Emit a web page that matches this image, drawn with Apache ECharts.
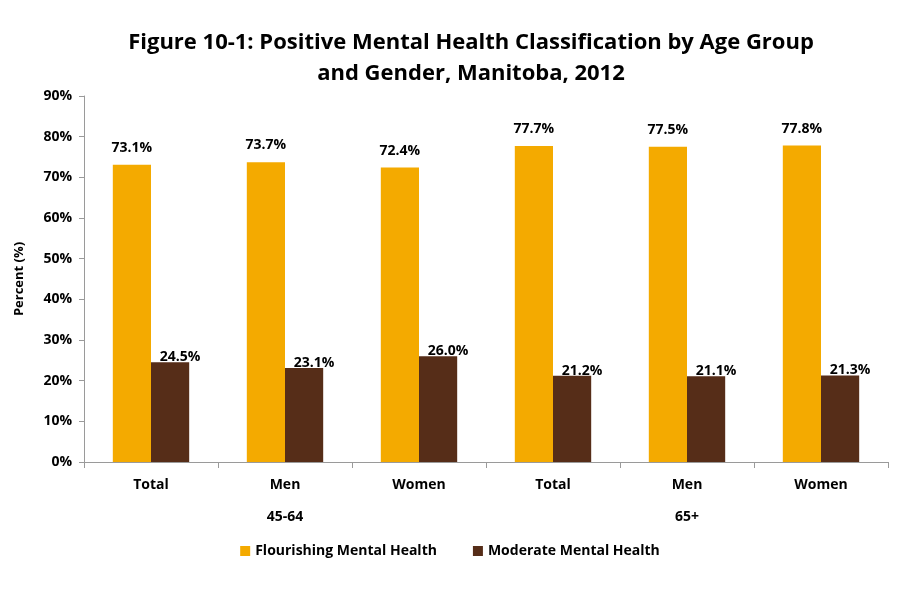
<!DOCTYPE html>
<html lang="en">
<head>
<meta charset="utf-8">
<script src="https://cdn.jsdelivr.net/npm/echarts@6/dist/echarts.min.js"></script>
<style>
  * { margin: 0; padding: 0; }
  body { background: #fff; }
</style>
</head>
<body>
<div id="main" style="width:900px;height:600px;"></div>
<script>
// chart data
var categories = ['Total', 'Men', 'Women', 'Total', 'Men', 'Women'];
var ageGroups = ['', '45-64', '', '', '65+', ''];
var flourishing = [73.1, 73.7, 72.4, 77.7, 77.5, 77.8];
var moderate = [24.5, 23.1, 26.0, 21.2, 21.1, 21.3];
var yTicks = [0, 10, 20, 30, 40, 50, 60, 70, 80, 90];

var FONT = 'Open Sans';
var myChart = echarts.init(document.getElementById('main'));

var option = {
    backgroundColor: '#fff',
    title: {
        text: 'Figure 10-1: Positive Mental Health Classification by Age Group\nand Gender, Manitoba, 2012',
        left: 466,
        top: 22,
        textAlign: 'center',
        textStyle: {
            fontFamily: FONT,
            fontWeight: 'bold',
            fontSize: 22,
            lineHeight: 31,
            color: '#000'
        }
    },
    legend: {
        bottom: 37,
        left: 'center',
        itemWidth: 10,
        itemHeight: 10,
        itemGap: 36,
        icon: 'rect',
        textStyle: { fontFamily: FONT, fontWeight: 'bold', fontSize: 14, color: '#000' },
        data: ['Flourishing Mental Health', 'Moderate Mental Health']
    },
    grid: { left: 84, right: 12, top: 96, bottom: 138 },
    xAxis: [{
        type: 'category',
        data: categories,
        axisLine: { lineStyle: { color: '#9a9a9a' } },
        axisTick: { show: true, length: 6, lineStyle: { color: '#9a9a9a' } },
        axisLabel: {
            margin: 16,
            fontFamily: FONT, fontWeight: 'bold', fontSize: 14, color: '#000'
        }
    }, {
        type: 'category',
        position: 'bottom',
        data: ageGroups,
        axisLine: { show: false },
        axisTick: { show: false },
        axisLabel: {
            margin: 48,
            fontFamily: FONT, fontWeight: 'bold', fontSize: 14, color: '#000'
        }
    }],
    yAxis: {
        type: 'value',
        min: yTicks[0],
        max: yTicks[yTicks.length - 1],
        interval: 10,
        name: 'Percent (%)',
        nameLocation: 'middle',
        nameGap: 58,
        nameTextStyle: { fontFamily: FONT, fontWeight: 'bold', fontSize: 13, color: '#000' },
        axisLine: { show: true, lineStyle: { color: '#9a9a9a' } },
        axisTick: { show: true, length: 5, lineStyle: { color: '#9a9a9a' } },
        splitLine: { show: false },
        axisLabel: {
            margin: 12,
            formatter: '{value}%',
            fontFamily: FONT, fontWeight: 'bold', fontSize: 14, color: '#000'
        }
    },
    series: [{
        name: 'Flourishing Mental Health',
        type: 'bar',
        data: flourishing,
        barGap: '0%',
        barCategoryGap: '43%',
        itemStyle: { color: '#F4AA00' },
        label: {
            show: true,
            position: 'top',
            distance: 10,
            formatter: function (p) { return p.value.toFixed(1) + '%'; },
            fontFamily: FONT, fontWeight: 'bold', fontSize: 14, color: '#000'
        }
    }, {
        name: 'Moderate Mental Health',
        type: 'bar',
        data: moderate,
        itemStyle: { color: '#562D18' },
        label: {
            show: true,
            position: 'top',
            distance: 0,
            offset: [10, 2],
            formatter: function (p) { return p.value.toFixed(1) + '%'; },
            fontFamily: FONT, fontWeight: 'bold', fontSize: 14, color: '#000'
        }
    }]
};

myChart.setOption(option);
</script>
</body>
</html>
